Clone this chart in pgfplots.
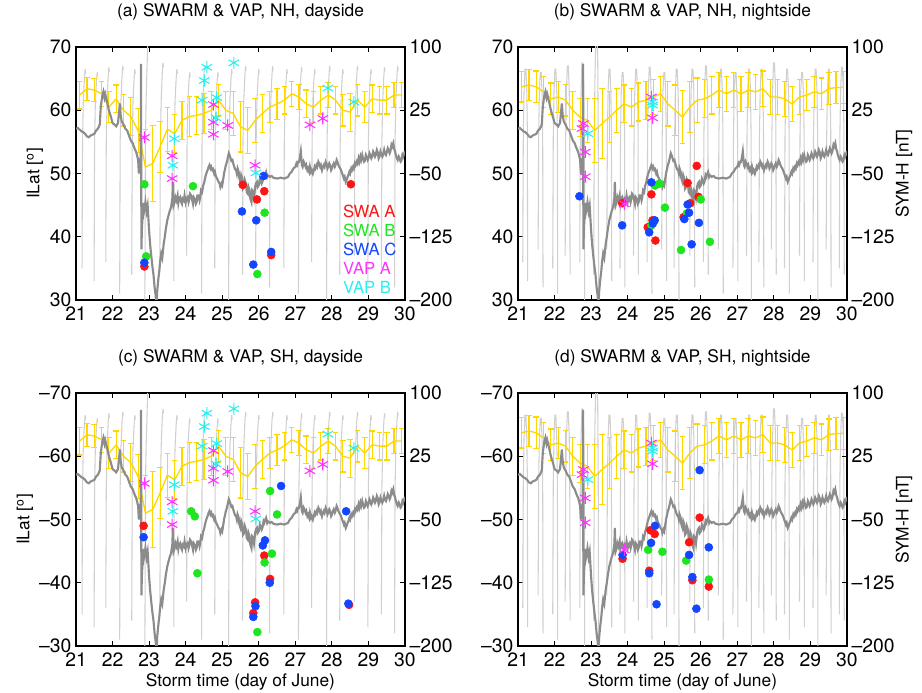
\documentclass[border=0pt]{standalone}
\usepackage{pgfplots}
\pgfplotsset{compat=1.18}
\usepackage{pgfplotstable}
\usepackage{fontspec}
\setmainfont{TeX Gyre Heros}
\definecolor{swaA}{RGB}{255,20,20}
\definecolor{swaB}{RGB}{30,230,30}
\definecolor{swaC}{RGB}{20,70,255}
\definecolor{vapA}{RGB}{255,50,255}
\definecolor{vapB}{RGB}{40,240,240}
\definecolor{yel}{RGB}{255,215,0}
\definecolor{symg}{RGB}{140,140,140}
\definecolor{trc}{RGB}{208,208,208}

\pgfplotstableread{
x y
21.00 3
21.05 4
21.10 2
21.15 0
21.20 -1
21.25 -3
21.30 -6
21.35 -7
21.40 -5
21.45 -4
21.50 -3
21.55 1
21.60 3
21.65 8
21.68 30
21.72 42
21.75 47
21.78 40
21.80 44
21.85 35
21.90 25
21.95 18
22.00 10
22.05 8
22.10 6
22.15 10
22.20 33
22.22 20
22.25 12
22.30 8
22.35 3
22.40 1
22.45 -5
22.50 -11
22.55 -14
22.60 -20
22.65 -25
22.70 -34
22.72 -50
22.74 -40
22.76 -44
22.77 -30
22.78 80
22.785 -60
22.79 -140
22.80 -120
22.82 -100
22.84 -85
22.86 -95
22.88 -90
22.90 -84
22.93 -95
22.96 -88
23.00 -118
23.03 -135
23.06 -148
23.09 -160
23.12 -170
23.15 -185
23.18 -195
23.20 -208
23.22 -190
23.25 -176
23.28 -165
23.30 -155
23.33 -145
23.36 -150
23.40 -133
23.43 -125
23.46 -115
23.50 -105
23.53 -100
23.56 -95
23.60 -90
23.62 -84
23.63 -88
23.65 -60
23.66 -80
23.67 -88
23.70 -84
23.72 -78
23.75 -82
23.78 -76
23.80 -85
23.82 -80
23.85 -78
23.88 -84
23.90 -86
23.92 -80
23.95 -82
23.97 -76
24.00 -84
24.02 -80
24.05 -78
24.08 -84
24.10 -80
24.12 -74
24.15 -76
24.18 -82
24.20 -86
24.22 -78
24.25 -80
24.28 -86
24.30 -84
24.32 -76
24.35 -76
24.38 -82
24.40 -78
24.42 -70
24.45 -72
24.48 -64
24.50 -62
24.53 -56
24.55 -52
24.58 -48
24.60 -46
24.63 -42
24.65 -40
24.68 -44
24.70 -42
24.73 -46
24.75 -45
24.78 -50
24.80 -48
24.83 -54
24.85 -55
24.88 -58
24.90 -60
24.93 -62
24.95 -66
24.98 -62
25.00 -64
25.03 -56
25.05 -50
25.08 -44
25.10 -40
25.13 -36
25.15 -32
25.18 -26
25.20 -28
25.23 -32
25.25 -35
25.28 -34
25.30 -38
25.33 -42
25.35 -45
25.38 -46
25.40 -50
25.42 -44
25.45 -48
25.47 -56
25.50 -60
25.52 -52
25.55 -56
25.57 -68
25.60 -66
25.62 -58
25.65 -62
25.67 -72
25.70 -74
25.72 -66
25.75 -70
25.77 -80
25.80 -84
25.82 -70
25.85 -72
25.87 -78
25.90 -66
25.92 -62
25.95 -60
25.97 -66
26.00 -64
26.03 -56
26.05 -58
26.08 -62
26.10 -60
26.13 -52
26.15 -54
26.18 -50
26.20 -48
26.23 -54
26.25 -52
26.30 -54
26.35 -53
26.40 -55
26.50 -56
26.60 -55
26.70 -56
26.80 -54
26.85 -50
26.90 -48
26.95 -44
27.00 -42
27.03 -38
27.05 -40
27.08 -36
27.10 -36
27.13 -30
27.15 -24
27.18 -40
27.20 -42
27.23 -36
27.25 -38
27.28 -42
27.30 -40
27.33 -46
27.35 -44
27.38 -48
27.40 -42
27.43 -48
27.45 -46
27.48 -50
27.50 -47
27.53 -42
27.55 -44
27.58 -40
27.60 -42
27.63 -36
27.65 -38
27.68 -42
27.70 -40
27.73 -46
27.75 -43
27.78 -40
27.80 -42
27.83 -36
27.85 -38
27.88 -44
27.90 -42
27.93 -38
27.95 -40
27.98 -46
28.00 -44
28.03 -40
28.05 -38
28.08 -42
28.10 -40
28.13 -34
28.15 -36
28.18 -40
28.20 -42
28.23 -44
28.25 -46
28.28 -50
28.30 -52
28.33 -56
28.35 -54
28.38 -60
28.40 -58
28.43 -54
28.45 -52
28.48 -48
28.50 -50
28.53 -44
28.55 -46
28.58 -42
28.60 -44
28.63 -38
28.65 -40
28.68 -36
28.70 -38
28.73 -32
28.75 -36
28.78 -30
28.80 -34
28.83 -28
28.85 -32
28.88 -36
28.90 -35
28.93 -28
28.95 -30
28.98 -34
29.00 -32
29.03 -26
29.05 -28
29.08 -32
29.10 -30
29.13 -24
29.15 -26
29.18 -30
29.20 -28
29.23 -22
29.25 -24
29.28 -32
29.30 -30
29.33 -24
29.35 -27
29.38 -30
29.40 -28
29.43 -22
29.45 -26
29.48 -28
29.50 -25
29.53 -20
29.55 -22
29.58 -26
29.60 -24
29.63 -16
29.65 -18
29.68 -14
29.70 -20
29.73 -24
29.75 -28
29.78 -32
29.80 -34
29.83 -30
29.85 -32
29.88 -36
29.90 -35
29.93 -28
29.95 -30
29.98 -26
30.00 -28
}\symh

\pgfplotstableread{
x y e
21.1 62.4 2.2
21.3 63.4 1.8
21.5 63.2 1.8
21.7 62.6 2.0
21.9 60.5 2.5
22.1 61.8 2.2
22.3 60.0 2.5
22.5 59.0 3.0
22.7 56.8 3.5
22.9 51.0 6.0
23.1 51.6 6.0
23.3 54.2 4.0
23.5 57.0 3.5
23.7 56.3 3.0
23.9 58.4 3.0
24.1 59.0 3.2
24.3 59.2 3.0
24.5 59.5 3.2
24.7 60.0 3.0
24.9 61.6 2.5
25.1 60.0 3.0
25.3 59.5 3.5
25.5 57.4 4.0
25.7 56.8 3.7
25.9 58.4 3.5
26.1 59.5 3.0
26.3 60.5 2.5
26.5 61.0 2.5
26.7 61.6 2.2
26.9 62.6 2.0
27.1 62.1 2.0
27.3 61.0 2.2
27.5 60.5 2.5
27.7 61.6 2.2
27.9 62.4 2.0
28.1 61.6 2.2
28.3 60.0 2.5
28.5 59.7 3.0
28.7 61.6 2.5
28.9 60.5 2.5
29.1 61.8 2.2
29.3 61.6 2.2
29.5 61.6 2.2
29.7 62.4 2.0
29.9 62.4 2.0
}\yelday

\pgfplotstableread{
x y e
21.1 63.7 2.4
21.3 64.0 2.5
21.5 63.7 2.5
21.7 62.9 2.5
21.9 61.8 2.5
22.1 62.1 2.5
22.3 61.6 2.5
22.5 60.0 3.0
22.7 58.9 3.0
22.9 58.4 3.5
23.1 56.8 5.0
23.3 57.9 5.5
23.5 58.9 4.0
23.7 60.0 3.5
23.9 61.0 3.0
24.1 60.5 3.0
24.3 61.3 3.0
24.5 61.6 3.0
24.7 62.1 2.8
24.9 62.6 2.8
25.1 61.0 3.5
25.3 60.0 4.0
25.5 58.9 4.2
25.7 60.5 4.0
25.9 61.6 3.5
26.1 61.8 3.0
26.3 62.4 3.0
26.5 63.2 2.8
26.7 62.6 2.8
26.9 63.2 2.8
27.1 62.6 2.8
27.3 63.2 2.8
27.5 62.9 2.8
27.7 63.4 2.8
27.9 62.1 2.8
28.1 62.1 2.8
28.3 61.8 2.8
28.5 61.0 2.8
28.7 62.1 2.8
28.9 62.4 2.5
29.1 62.9 2.5
29.3 62.6 2.5
29.5 63.4 2.5
29.7 63.6 2.5
29.9 63.6 2.5
}\yelnight

\pgfplotstableread{
x y
21.165 35
21.178 55
21.200 61.5
21.230 65
21.250 66.5
21.262 65.8
21.262 nan
21.495 33
21.508 55
21.530 61.5
21.560 64.5
21.580 66
21.592 65.3
21.592 nan
21.815 36
21.828 55
21.850 61.5
21.880 65.3
21.900 66.8
21.912 66.1
21.912 nan
22.195 31
22.208 55
22.230 61.5
22.260 65.5
22.280 67
22.292 66.3
22.292 nan
22.525 34
22.538 55
22.560 61.5
22.590 65
22.610 66.5
22.622 65.8
22.622 nan
22.885 30
22.898 55
22.920 62
22.950 68
22.970 72
22.982 72
22.982 nan
23.295 36
23.308 55
23.330 61.5
23.360 66
23.380 67.5
23.392 66.8
23.392 nan
23.675 33
23.688 55
23.710 61.5
23.740 65
23.760 66.5
23.772 65.8
23.772 nan
24.025 37
24.038 55
24.060 61.5
24.090 64.5
24.110 66
24.122 65.3
24.122 nan
24.435 31
24.448 55
24.470 61.5
24.500 65.5
24.520 67
24.532 66.3
24.532 nan
24.795 35
24.808 55
24.830 61.5
24.860 64.5
24.880 66
24.892 65.3
24.892 nan
25.175 30
25.188 55
25.210 61.5
25.240 65
25.260 66.5
25.272 65.8
25.272 nan
25.555 34
25.568 55
25.590 61.5
25.620 65.5
25.640 67
25.652 66.3
25.652 nan
25.915 36
25.928 55
25.950 61.5
25.980 65
26.000 66.5
26.012 65.8
26.012 nan
26.295 32
26.308 55
26.330 61.5
26.360 65.5
26.380 67
26.392 66.3
26.392 nan
26.685 35
26.698 55
26.720 61.5
26.750 65
26.770 66.5
26.782 65.8
26.782 nan
27.085 31
27.098 55
27.120 61.5
27.150 65.3
27.170 66.8
27.182 66.1
27.182 nan
27.445 36
27.458 55
27.480 61.5
27.510 65
27.530 66.5
27.542 65.8
27.542 nan
27.855 30
27.868 55
27.890 61.5
27.920 65.5
27.940 67
27.952 66.3
27.952 nan
28.215 34
28.228 55
28.250 61.5
28.280 65
28.300 66.5
28.312 65.8
28.312 nan
28.615 37
28.628 55
28.650 61.5
28.680 65.5
28.700 67
28.712 66.3
28.712 nan
28.985 33
28.998 55
29.020 61.5
29.050 65
29.070 66.5
29.082 65.8
29.082 nan
29.355 35
29.368 55
29.390 61.5
29.420 65.3
29.440 66.8
29.452 66.1
29.452 nan
29.715 32
29.728 55
29.750 61.5
29.780 65.5
29.800 67
29.812 66.3
}\trday

\pgfplotstableread{
x y
21.130 36
21.145 56
21.165 63
21.190 66.5
21.215 66.5
21.240 63
21.255 57
21.265 33
21.265 nan
21.550 38
21.565 56
21.585 63
21.610 66
21.635 66
21.660 62.5
21.675 57
21.685 32
21.685 nan
21.950 35
21.965 56
21.985 63
22.010 66.5
22.035 66.5
22.060 63
22.075 57
22.085 31
22.085 nan
22.290 37
22.305 56
22.325 63
22.350 67
22.375 67
22.400 63.5
22.415 57
22.425 34
22.425 nan
22.690 36
22.705 56
22.725 63
22.750 67.5
22.775 67.5
22.800 64
22.815 57
22.825 30
22.825 nan
23.070 34
23.085 56
23.105 65
23.130 72
23.155 72
23.180 68.5
23.195 57
23.205 31
23.205 nan
23.430 38
23.445 56
23.465 63
23.490 66.5
23.515 66.5
23.540 63
23.555 57
23.565 33
23.565 nan
23.790 35
23.805 56
23.825 63
23.850 66
23.875 66
23.900 62.5
23.915 57
23.925 32
23.925 nan
24.160 37
24.175 56
24.195 63
24.220 66.5
24.245 66.5
24.270 63
24.285 57
24.295 34
24.295 nan
24.530 36
24.545 56
24.565 63
24.590 66.8
24.615 66.8
24.640 63.3
24.655 57
24.665 31
24.665 nan
24.930 38
24.945 56
24.965 63
24.990 66
25.015 66
25.040 62.5
25.055 57
25.065 33
25.065 nan
25.270 35
25.285 56
25.305 63
25.330 66.5
25.355 66.5
25.380 63
25.395 57
25.405 30
25.405 nan
25.700 37
25.715 56
25.735 63
25.760 66.5
25.785 66.5
25.810 63
25.825 57
25.835 32
25.835 nan
26.070 36
26.085 56
26.105 63
26.130 67
26.155 67
26.180 63.5
26.195 57
26.205 34
26.205 nan
26.480 38
26.495 56
26.515 63
26.540 66.5
26.565 66.5
26.590 63
26.605 57
26.615 31
26.615 nan
26.880 35
26.895 56
26.915 63
26.940 66
26.965 66
26.990 62.5
27.005 57
27.015 33
27.015 nan
27.250 37
27.265 56
27.285 63
27.310 66.5
27.335 66.5
27.360 63
27.375 57
27.385 30
27.385 nan
27.590 36
27.605 56
27.625 63
27.650 66.5
27.675 66.5
27.700 63
27.715 57
27.725 32
27.725 nan
27.930 38
27.945 56
27.965 63
27.990 67.5
28.015 67.5
28.040 64
28.055 57
28.065 34
28.065 nan
28.290 35
28.305 56
28.325 63
28.350 66.5
28.375 66.5
28.400 63
28.415 57
28.425 31
28.425 nan
28.700 37
28.715 56
28.735 63
28.760 66
28.785 66
28.810 62.5
28.825 57
28.835 33
28.835 nan
29.070 36
29.085 56
29.105 63
29.130 66.5
29.155 66.5
29.180 63
29.195 57
29.205 30
29.205 nan
29.430 38
29.445 56
29.465 63
29.490 66.5
29.515 66.5
29.540 63
29.555 57
29.565 32
29.565 nan
29.790 35
29.805 56
29.825 63
29.850 66.8
29.875 66.8
29.900 63.3
29.915 57
29.925 34
}\trnight

\pgfplotsset{
  pos/.style={scale only axis, width=246.75pt, height=189.75pt, xmin=21, xmax=30, anchor=south west},
  mainax/.style={pos, ymin=30, ymax=70, xtick={21,22,...,30}, ytick={30,40,50,60,70},
    ytick pos=left, tick align=inside, major tick length=4pt,
    axis line style={line width=0.8pt}, tick style={black, line width=0.8pt},
    tick label style={font=\fontsize{14.5}{16}\selectfont},
    xticklabel style={yshift=-1.5pt},
    /pgf/number format/assume math mode=true,
    title style={font=\fontsize{13}{15}\selectfont, at={(axis description cs:0.5,1.0909)}, anchor=base},
    label style={font=\fontsize{13}{15}\selectfont},
    xlabel style={at={(axis description cs:0.5,-0.162)}, anchor=base},
    unbounded coords=jump},
  symax/.style={pos, ymin=-200, ymax=100, axis y line*=right, axis x line=none,
    ytick={-200,-125,-50,25,100}, yticklabels={--200,--125,--50,25,100},
    tick align=inside, major tick length=4pt,
    axis line style={line width=0.8pt}, tick style={black, line width=0.8pt},
    tick label style={font=\fontsize{14.5}{16}\selectfont},
    label style={font=\fontsize{13}{15}\selectfont},
    ylabel style={at={(axis description cs:1.1733,0.5)}, anchor=center}},
  topax/.style={pos, ymin=30, ymax=70, hide axis},
  trace/.style={trc, line width=0.8pt},
  yelline/.style={yel, line width=1pt, error bars/.cd, y dir=both, y explicit,
    error bar style={yel, line width=0.85pt}, error mark options={yel, rotate=90, mark size=2.1pt, line width=0.85pt}},
  symline/.style={symg, line width=1.6pt},
  mA/.style={only marks, mark=*, mark size=3pt, mark options={draw=swaA, fill=swaA}},
  mB/.style={only marks, mark=*, mark size=3pt, mark options={draw=swaB, fill=swaB}},
  mC/.style={only marks, mark=*, mark size=3pt, mark options={draw=swaC, fill=swaC}},
  vA/.style={only marks, mark=asterisk, mark size=4.5pt, mark options={draw=vapA, line width=0.8pt}},
  vB/.style={only marks, mark=asterisk, mark size=4.5pt, mark options={draw=vapB, line width=0.8pt}},
}

\begin{document}
\begin{tikzpicture}
\useasboundingbox (0,0) rectangle (691.5pt,519.75pt);

% ---------------- (a) ----------------
\begin{axis}[mainax, at={(57pt,294.75pt)}, title={(a) SWARM \& VAP, NH, dayside},
  ylabel={ILat [\textsuperscript{o}]}, ylabel style={at={(axis description cs:-0.1246,0.5)}, anchor=center}]
\addplot[trace] table[x=x,y=y] {\trday};
\addplot[yelline] table[x=x,y=y,y error=e] {\yelday};
\end{axis}
\begin{axis}[symax, at={(57pt,294.75pt)}]
\addplot[symline] table[x=x,y=y] {\symh};
\end{axis}
\begin{axis}[topax, at={(57pt,294.75pt)}]
\addplot[mA] coordinates {(22.87,35.3) (25.56,48.2) (25.95,45.9) (26.15,47.2) (26.34,37.1) (28.52,48.3)};
\addplot[mB] coordinates {(22.87,48.3) (22.92,36.9) (24.2,48.0) (26.16,43.8) (25.96,34.1)};
\addplot[mC] coordinates {(22.87,35.9) (25.54,44.0) (25.93,42.6) (26.13,49.6) (25.85,35.6) (26.34,37.6)};
\addplot[vA] coordinates {(22.87,55.7) (23.63,52.8) (23.63,49.2) (24.76,60.9) (24.76,58.1) (24.76,56.2) (25.15,57.6) (25.9,51.3) (27.4,57.7) (27.75,58.7)};
\addplot[vB] coordinates {(24.58,66.8) (24.51,64.7) (24.45,61.6) (24.85,62.0) (24.83,58.8) (25.32,67.5) (23.69,55.5) (23.65,51.3) (25.92,50.1) (27.89,63.5) (28.6,61.3)};
\node[anchor=west, inner sep=0pt, text=swaA, font=\fontsize{12.5}{14}\selectfont] at (axis cs:28.3,44.07) {SWA A};
\node[anchor=west, inner sep=0pt, text=swaB, font=\fontsize{12.5}{14}\selectfont] at (axis cs:28.3,41.07) {SWA B};
\node[anchor=west, inner sep=0pt, text=swaC, font=\fontsize{12.5}{14}\selectfont] at (axis cs:28.3,38.06) {SWA C};
\node[anchor=west, inner sep=0pt, text=vapA, font=\fontsize{12.5}{14}\selectfont] at (axis cs:28.3,35.06) {VAP A};
\node[anchor=west, inner sep=0pt, text=vapB, font=\fontsize{12.5}{14}\selectfont] at (axis cs:28.3,32.05) {VAP B};
\end{axis}

% ---------------- (b) ----------------
\begin{axis}[mainax, at={(388.5pt,294.75pt)}, title={(b) SWARM \& VAP, NH, nightside}]
\addplot[trace] table[x=x,y=y] {\trnight};
\addplot[yelline] table[x=x,y=y,y error=e] {\yelnight};
\end{axis}
\begin{axis}[symax, at={(388.5pt,294.75pt)}, ylabel={SYM-H [nT]}]
\addplot[symline] table[x=x,y=y] {\symh};
\end{axis}
\begin{axis}[topax, at={(388.5pt,294.75pt)}]
\addplot[mA] coordinates {(24.65,46.7) (24.55,41.5) (24.68,42.6) (24.76,39.4) (23.85,45.3) (25.64,48.5) (25.89,51.2) (25.94,46.3) (25.71,45.3) (25.53,43.1)};
\addplot[mB] coordinates {(24.75,48.1) (24.87,48.4) (25.02,44.6) (24.65,41.8) (25.46,37.9) (26.0,45.9) (26.25,39.2) (25.62,43.7)};
\addplot[mC] coordinates {(22.68,46.4) (23.85,41.8) (24.65,48.6) (24.59,40.7) (24.74,42.6) (24.69,42.1) (25.64,45.1) (25.55,42.8) (25.68,43.8) (25.75,38.8) (25.95,42.2)};
\addplot[vA] coordinates {(22.79,57.9) (22.75,57.1) (22.84,53.4) (22.84,49.5) (24.65,62.1) (24.68,58.8) (23.91,45.2)};
\addplot[vB] coordinates {(24.68,60.8) (22.91,56.3) (24.68,61.3)};
\end{axis}

% ---------------- (c) ----------------
\begin{axis}[mainax, at={(57pt,35.25pt)}, title={(c) SWARM \& VAP, SH, dayside},
  yticklabels={--30,--40,--50,--60,--70},
  ylabel={ILat [\textsuperscript{o}]}, ylabel style={at={(axis description cs:-0.155,0.5)}, anchor=center},
  xlabel={Storm time (day of June)}]
\addplot[trace] table[x=x,y=y] {\trday};
\addplot[yelline] table[x=x,y=y,y error=e] {\yelday};
\end{axis}
\begin{axis}[symax, at={(57pt,35.25pt)}]
\addplot[symline] table[x=x,y=y] {\symh};
\end{axis}
\begin{axis}[topax, at={(57pt,35.25pt)}]
\addplot[mA] coordinates {(22.85,49.0) (26.15,44.3) (26.31,40.6) (25.9,36.9) (25.85,35.2) (28.47,36.5)};
\addplot[mB] coordinates {(24.15,51.3) (24.25,50.5) (24.32,41.5) (26.31,54.5) (26.5,50.8) (26.16,43.2) (26.36,44.6) (25.96,32.2)};
\addplot[mC] coordinates {(22.85,47.2) (26.61,55.3) (26.17,46.7) (26.11,45.9) (26.3,40.0) (25.91,36.3) (25.85,34.6) (28.39,51.3) (28.45,36.7)};
\addplot[vA] coordinates {(22.87,55.7) (23.63,52.8) (23.63,49.2) (24.76,60.9) (24.76,58.1) (24.76,56.2) (25.15,57.6) (25.9,51.3) (27.4,57.7) (27.75,58.7)};
\addplot[vB] coordinates {(24.58,66.8) (24.51,64.7) (24.45,61.6) (24.85,62.0) (24.83,58.8) (25.32,67.5) (23.69,55.5) (23.65,51.3) (25.92,50.1) (27.89,63.5) (28.6,61.3)};
\end{axis}

% ---------------- (d) ----------------
\begin{axis}[mainax, at={(388.5pt,35.25pt)}, title={(d) SWARM \& VAP, SH, nightside},
  yticklabels={--30,--40,--50,--60,--70}, xlabel={Storm time (day of June)}]
\addplot[trace] table[x=x,y=y] {\trnight};
\addplot[yelline] table[x=x,y=y,y error=e] {\yelnight};
\end{axis}
\begin{axis}[symax, at={(388.5pt,35.25pt)}, ylabel={SYM-H [nT]}]
\addplot[symline] table[x=x,y=y] {\symh};
\end{axis}
\begin{axis}[topax, at={(388.5pt,35.25pt)}]
\addplot[mA] coordinates {(23.86,43.8) (24.62,48.3) (24.74,47.7) (24.59,41.9) (25.97,50.3) (25.68,46.4) (25.77,40.4) (26.22,39.4)};
\addplot[mB] coordinates {(24.56,45.2) (24.95,44.9) (25.6,43.5) (26.22,40.5)};
\addplot[mC] coordinates {(23.86,44.4) (24.75,49.0) (24.64,46.3) (24.59,41.5) (24.79,36.6) (25.68,44.4) (25.77,40.9) (25.88,35.9) (25.97,57.8) (26.22,45.6)};
\addplot[vA] coordinates {(22.79,57.9) (22.75,57.1) (22.84,53.4) (22.84,49.5) (24.65,62.1) (24.68,58.8) (23.91,45.2)};
\addplot[vB] coordinates {(24.68,60.8) (22.91,56.3) (24.68,61.3)};
\end{axis}
\end{tikzpicture}
\end{document}
